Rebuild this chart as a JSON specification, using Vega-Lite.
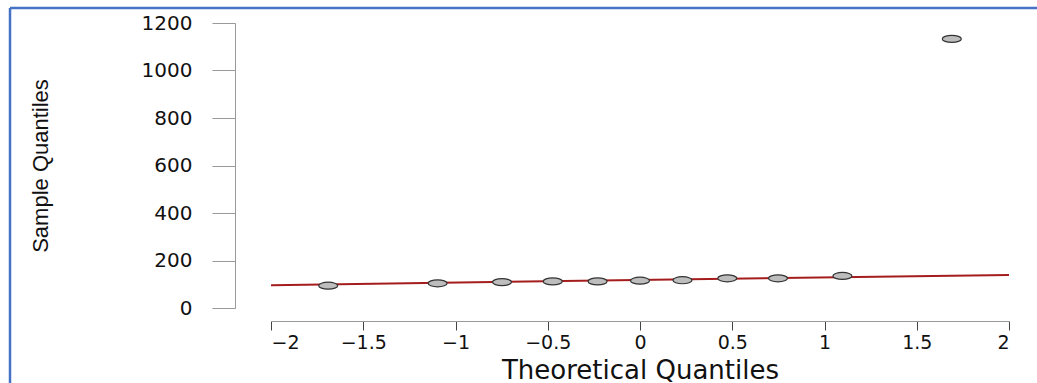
{
  "$schema": "https://vega.github.io/schema/vega-lite/v6.json",
  "width": 738,
  "height": 285,
  "autosize": {"type": "none"},
  "padding": {"left": 271, "top": 23, "right": 28, "bottom": 75},
  "background": "white",
  "config": {
    "view": {"stroke": null},
    "axis": {"grid": false, "labelFont": "DejaVu Sans", "titleFont": "DejaVu Sans", "labelColor": "#111", "titleColor": "#111", "titleFontWeight": "normal"}
  },
  "datasets": {
    "pts": [
      {"theoretical": -1.690, "sample": 94},
      {"theoretical": -1.097, "sample": 104},
      {"theoretical": -0.748, "sample": 109},
      {"theoretical": -0.473, "sample": 112},
      {"theoretical": -0.230, "sample": 112},
      {"theoretical": 0.0, "sample": 115},
      {"theoretical": 0.230, "sample": 117},
      {"theoretical": 0.473, "sample": 125},
      {"theoretical": 0.748, "sample": 125},
      {"theoretical": 1.097, "sample": 135},
      {"theoretical": 1.690, "sample": 1133}
    ],
    "qqline": [
      {"theoretical": -2, "sample": 96.3},
      {"theoretical": 2, "sample": 139.3}
    ],
    "frame": [{"part": "border"}]
  },
  "layer": [
    {
      "data": {"name": "frame"},
      "mark": {"type": "rule", "color": "#4472C4", "strokeWidth": 2.5},
      "encoding": {
        "x": {"datum": -3.4146, "type": "quantitative"},
        "y": {"datum": 1263, "type": "quantitative"},
        "y2": {"datum": -450}
      }
    },
    {
      "data": {"name": "frame"},
      "mark": {"type": "rule", "color": "#4472C4", "strokeWidth": 2.5},
      "encoding": {
        "x": {"datum": -3.4146, "type": "quantitative"},
        "x2": {"datum": 2.4},
        "y": {"datum": 1263, "type": "quantitative"}
      }
    },
    {
      "data": {"name": "qqline"},
      "mark": {"type": "line", "color": "#A51C1C", "strokeWidth": 2},
      "encoding": {
        "x": {"field": "theoretical", "type": "quantitative"},
        "y": {"field": "sample", "type": "quantitative"}
      }
    },
    {
      "data": {"name": "pts"},
      "mark": {
        "type": "point",
        "shape": "M-1,0A1,0.37,0,1,1,1,0A1,0.37,0,1,1,-1,0Z",
        "size": 361,
        "filled": true,
        "fill": "#BDBDBD",
        "stroke": "#333333",
        "strokeWidth": 1.2,
        "opacity": 1
      },
      "encoding": {
        "x": {
          "field": "theoretical",
          "type": "quantitative",
          "scale": {"domain": [-2, 2], "nice": false, "zero": false},
          "axis": {
            "title": "Theoretical Quantiles",
            "values": [-2, -1.5, -1, -0.5, 0, 0.5, 1, 1.5, 2],
            "format": "~g",
            "offset": 13,
            "tickSize": 9,
            "tickColor": "#444",
            "domainColor": "#999",
            "labelFontSize": 19,
            "labelPadding": 3,
            "titleFontSize": 26,
            "titleBaseline": "alphabetic",
            "titleY": 57
          }
        },
        "y": {
          "field": "sample",
          "type": "quantitative",
          "scale": {"domain": [0, 1200], "nice": false, "zero": false},
          "axis": {
            "title": "Sample Quantiles",
            "values": [0, 200, 400, 600, 800, 1000, 1200],
            "format": "d",
            "offset": 36,
            "tickSize": 23,
            "tickColor": "#999",
            "domainColor": "#999",
            "labelFontSize": 20,
            "labelPadding": 20,
            "titleFont": "Liberation Sans",
            "titleFontSize": 22,
            "titleBaseline": "alphabetic",
            "titleX": -188
          }
        }
      }
    }
  ]
}
